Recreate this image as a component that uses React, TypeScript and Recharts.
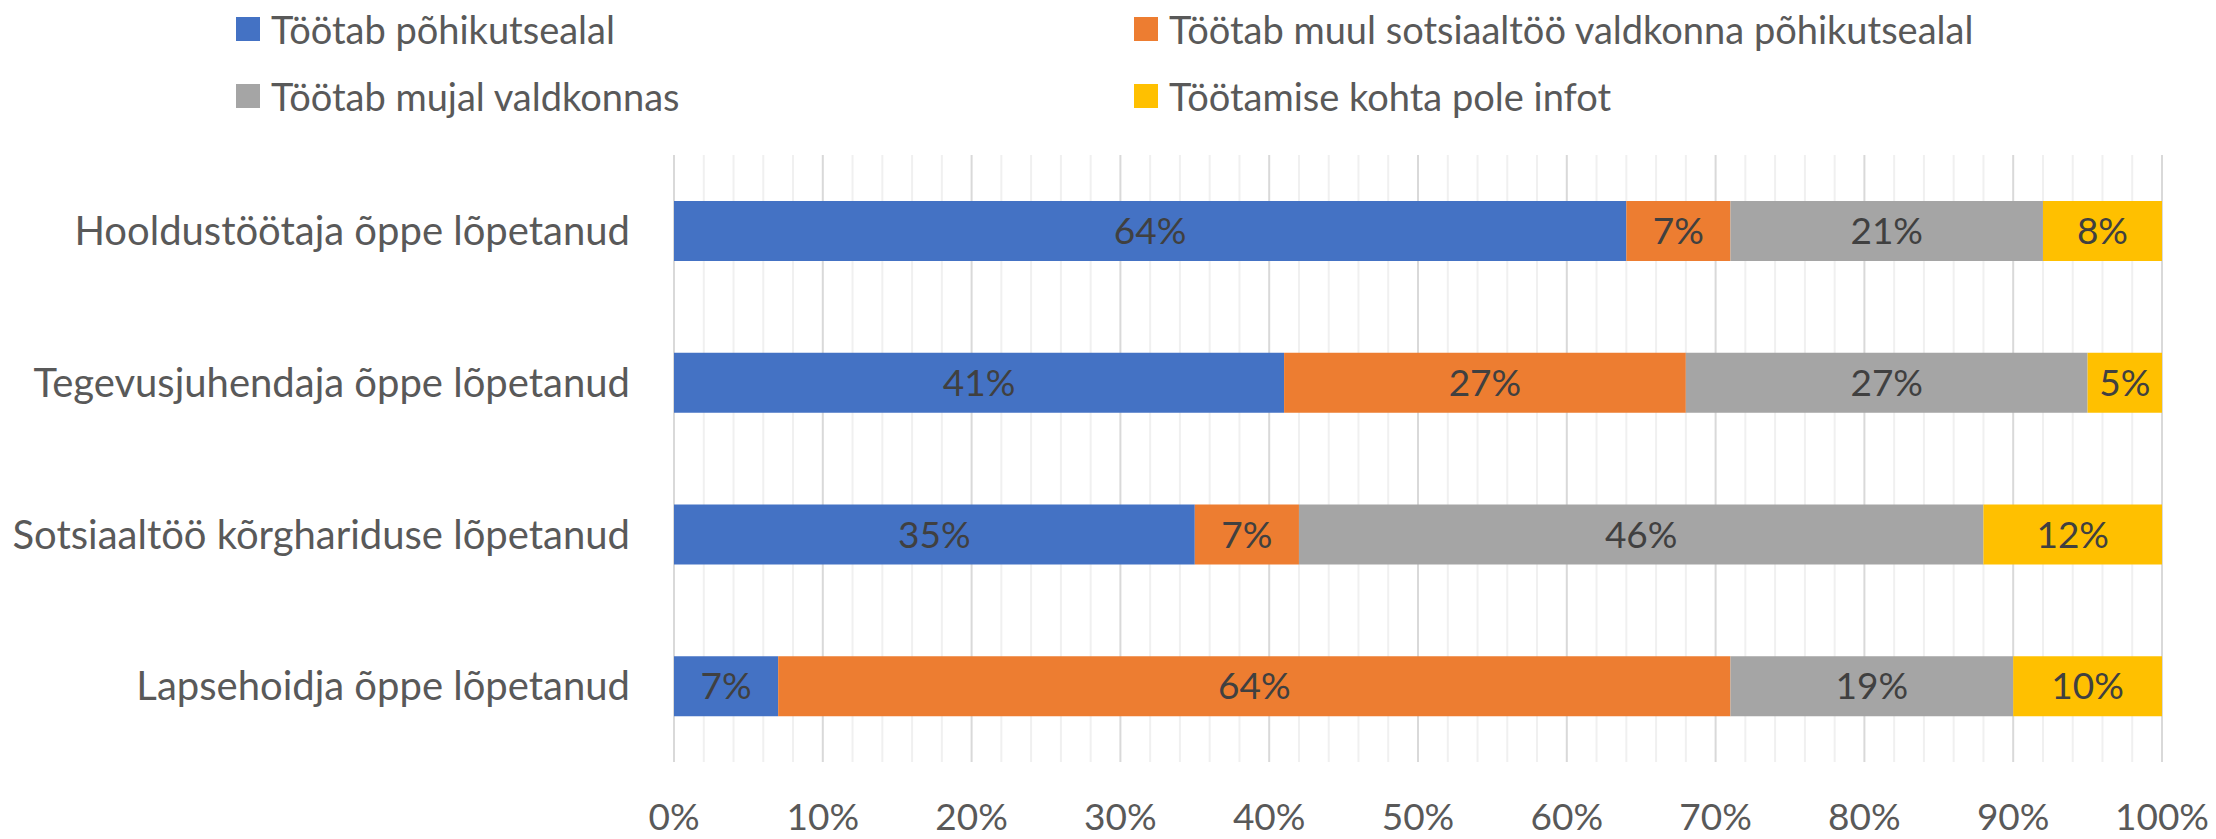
import React from "react";
import { BarChart, Bar, XAxis, YAxis, CartesianGrid, LabelList, Legend } from "recharts";

const categories = [
  "Hooldustöötaja õppe lõpetanud",
  "Tegevusjuhendaja õppe lõpetanud",
  "Sotsiaaltöö kõrghariduse lõpetanud",
  "Lapsehoidja õppe lõpetanud",
];
const seriesNames = [
  "Töötab põhikutsealal",
  "Töötab muul sotsiaaltöö valdkonna põhikutsealal",
  "Töötab mujal valdkonnas",
  "Töötamise kohta pole infot",
];
const seriesColors = ["#4472C4", "#ED7D31", "#A5A5A5", "#FFC000"];
const pohikutsealal = [64, 41, 35, 7];
const muulSotsiaal = [7, 27, 7, 64];
const mujal = [21, 27, 46, 19];
const poleInfot = [8, 5, 12, 10];
const majorTicks = [0, 10, 20, 30, 40, 50, 60, 70, 80, 90, 100];
const minorTicks = [0, 2, 4, 6, 8, 10, 12, 14, 16, 18, 20, 22, 24, 26, 28, 30, 32, 34, 36, 38, 40, 42, 44, 46, 48, 50, 52, 54, 56, 58, 60, 62, 64, 66, 68, 70, 72, 74, 76, 78, 80, 82, 84, 86, 88, 90, 92, 94, 96, 98, 100];

const keys = ["s0", "s1", "s2", "s3"];
const data = categories.map((c, i) => ({
  name: c,
  s0: pohikutsealal[i],
  s1: muulSotsiaal[i],
  s2: mujal[i],
  s3: poleInfot[i],
}));

const FONT = "Lato, 'Open Sans', sans-serif";

const legendPos = [
  { left: 236, top: 17 },
  { left: 1134, top: 17 },
  { left: 236, top: 84 },
  { left: 1134, top: 84 },
];

const CustomLegend = () => (
  <div style={{ position: "relative", width: 2216, height: 130 }}>
    {seriesNames.map((n, i) => (
      <div
        key={n}
        style={{
          position: "absolute",
          left: legendPos[i].left,
          top: legendPos[i].top,
          height: 24,
          display: "flex",
          alignItems: "center",
          whiteSpace: "nowrap",
        }}
      >
        <span style={{ display: "inline-block", width: 24, height: 24, background: seriesColors[i], marginRight: 11 }} />
        <span style={{ fontFamily: FONT, fontSize: 38, color: "#595959", lineHeight: "24px" }}>{n}</span>
      </div>
    ))}
  </div>
);

const GridLine = (p: any) => {
  let idx = typeof p.index === "number" ? p.index : -1;
  if (idx < 0 && typeof p.key === "string") {
    const m = p.key.match(/(\d+)$/);
    if (m) idx = parseInt(m[1], 10);
  }
  const tickVal = idx >= 0 ? minorTicks[idx] : -1;
  const isMajor = majorTicks.indexOf(tickVal) >= 0;
  return (
    <line
      x1={p.x1}
      y1={p.y1}
      x2={p.x2}
      y2={p.y2}
      stroke={isMajor ? "#d9d9d9" : "#f0f0f0"}
      strokeWidth={2}
      fill="none"
    />
  );
};

export default function App() {
  return (
    <div style={{ position: "absolute", left: 0, top: 0, width: 2216, height: 839, background: "#fff" }}>
      <BarChart
        width={2216}
        height={839}
        data={data}
        layout="vertical"
        margin={{ top: 25, right: 54, bottom: 0, left: 0 }}
        barCategoryGap={46}
      >
        <CartesianGrid horizontal={false} syncWithTicks vertical={(p: any) => <GridLine {...p} />} />
        <XAxis
          type="number"
          domain={[0, 100]}
          ticks={minorTicks}
          tickFormatter={(v: number) => (majorTicks.indexOf(v) >= 0 ? `${v}%` : "")}
          axisLine={false}
          tickLine={false}
          tickSize={0}
          tickMargin={42}
          height={77}
          tick={{ fill: "#595959", fontSize: 37, fontFamily: FONT }}
          interval={0}
        />
        <YAxis
          type="category"
          dataKey="name"
          width={674}
          axisLine={false}
          tickLine={false}
          tickSize={0}
          tickMargin={44}
          tick={{ fill: "#595959", fontSize: 40, fontFamily: FONT }}
        />
        <Legend verticalAlign="top" align="left" wrapperStyle={{ top: 0, left: 0, width: 2216, height: 130 }} content={<CustomLegend />} />
        {keys.map((k, i) => (
          <Bar key={k} dataKey={k} name={seriesNames[i]} stackId="a" fill={seriesColors[i]} barSize={60} isAnimationActive={false}>
            <LabelList
              dataKey={k}
              position="center"
              formatter={(v: number) => `${v}%`}
              fill="#404040"
              fontSize={37}
              fontFamily={FONT}
            />
          </Bar>
        ))}
      </BarChart>
    </div>
  );
}
